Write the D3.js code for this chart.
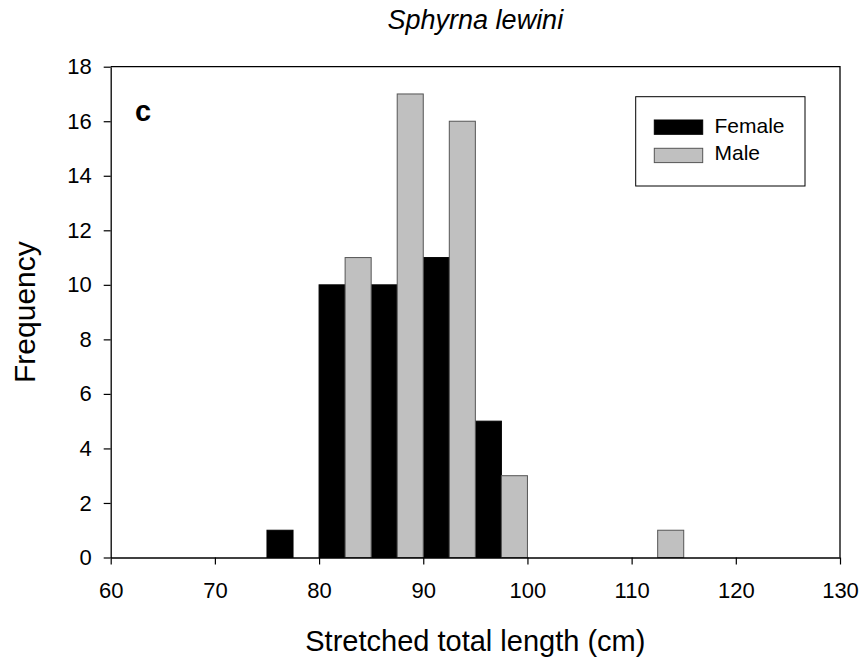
<!DOCTYPE html>
<html><head><meta charset="utf-8">
<script src="https://cdn.jsdelivr.net/npm/d3@7"></script>
<style>body{margin:0;background:#fff}svg{display:block}text{font-family:"Liberation Sans",Arial,sans-serif}</style>
</head><body>
<script>
const binWidth = 2.5;
const femaleStarts = [75, 80, 85, 90, 95];
const femaleCounts = [1, 10, 10, 11, 5];
const maleStarts = [82.5, 87.5, 92.5, 97.5, 112.5];
const maleCounts = [11, 17, 16, 3, 1];
const xTicks = [60, 70, 80, 90, 100, 110, 120, 130];
const yTicks = [0, 2, 4, 6, 8, 10, 12, 14, 16, 18];
const seriesNames = ["Female", "Male"];
const seriesColors = ["#000000", "#c0c0c0"];

const W = 867, H = 665;
const svg = d3.select("body").append("svg").attr("width", W).attr("height", H);
const x = d3.scaleLinear().domain([60, 130]).range([110.7, 840]);
const y = d3.scaleLinear().domain([0, 18]).range([557.5, 66.7]);

function drawBars(starts, counts, color, stroke) {
  svg.append("g").selectAll("rect").data(starts.map((s, i) => ({s, c: counts[i]}))).join("rect")
    .attr("x", d => x(d.s)).attr("width", d => x(d.s + binWidth) - x(d.s))
    .attr("y", d => y(d.c)).attr("height", d => y(0) - y(d.c))
    .attr("fill", color).attr("stroke", stroke).attr("stroke-width", 1);
}
drawBars(femaleStarts, femaleCounts, seriesColors[0], "#000");
drawBars(maleStarts, maleCounts, seriesColors[1], "#555");

svg.append("path").attr("d", `M${x(60)},${y(18)}H${x(130)}V${y(0)}`).attr("fill", "none").attr("stroke", "#000").attr("stroke-width", 1.3);

const xa = svg.append("g").attr("transform", `translate(0,${y(0)})`)
  .call(d3.axisBottom(x).tickValues(xTicks).tickSize(7).tickSizeOuter(0).tickPadding(18));
const ya = svg.append("g").attr("transform", `translate(${x(60)},0)`)
  .call(d3.axisLeft(y).tickValues(yTicks).tickSize(7).tickSizeOuter(0).tickPadding(12));
[xa, ya].forEach(a => {
  a.attr("font-size", 22).attr("font-family", '"Liberation Sans",Arial,sans-serif');
  a.select(".domain").attr("stroke", "#000").attr("stroke-width", 1.3);
  a.selectAll(".tick line").attr("stroke", "#000").attr("stroke-width", 1.2);
  a.selectAll("text").attr("font-size", 22).attr("fill", "#000");
});

svg.append("text").attr("x", (x(60) + x(130)) / 2).attr("y", 28.5).attr("text-anchor", "middle")
  .attr("font-size", 27).attr("font-style", "italic").text("Sphyrna lewini");
svg.append("text").attr("x", (x(60) + x(130)) / 2).attr("y", 651).attr("text-anchor", "middle")
  .attr("font-size", 29).text("Stretched total length (cm)");
svg.append("text").attr("transform", `translate(35,${(y(0) + y(18)) / 2}) rotate(-90)`).attr("text-anchor", "middle")
  .attr("font-size", 30).text("Frequency");
svg.append("text").attr("x", 135).attr("y", 120.7).attr("font-size", 29).attr("font-weight", "bold").text("c");

const lg = svg.append("g");
lg.append("rect").attr("x", 635.7).attr("y", 96.7).attr("width", 169.3).attr("height", 89.3)
  .attr("fill", "#fff").attr("stroke", "#000").attr("stroke-width", 1);
seriesNames.forEach((n, i) => {
  lg.append("rect").attr("x", 654.3).attr("y", 120 + i * 28.3).attr("width", 48.4).attr("height", 14.3)
    .attr("fill", seriesColors[i]).attr("stroke", i ? "#555" : "#000");
  lg.append("text").attr("x", 714.5).attr("y", 133.3 + i * 27).attr("font-size", 21).text(n);
});
</script>
</body></html>
